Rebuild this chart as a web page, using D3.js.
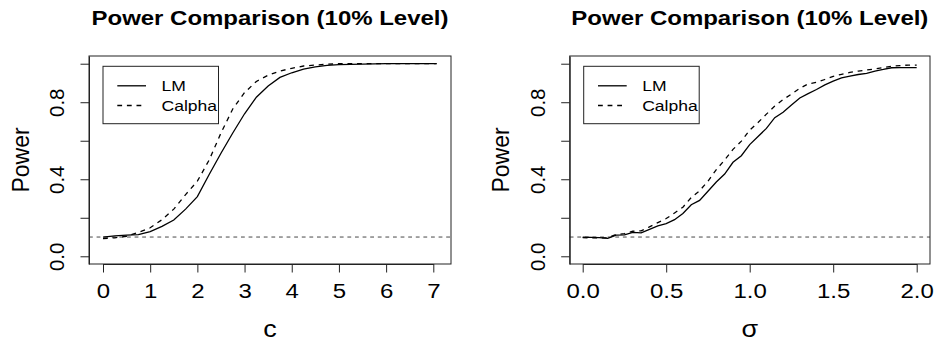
<!DOCTYPE html>
<html>
<head>
<meta charset="utf-8">
<script src="https://cdn.jsdelivr.net/npm/d3@7"></script>
<style>
  body { margin: 0; background: #fff; }
  text { font-family: "Liberation Sans", Arial, sans-serif; fill: #000; }
</style>
</head>
<body>
<div id="chart"></div>
<script>
// ---- data ----
var cValues = [0, 0.25, 0.5, 0.75, 1.0, 1.25, 1.5, 1.75, 2.0, 2.25, 2.5, 2.75, 3.0, 3.25,
               3.5, 3.75, 4.0, 4.25, 4.5, 4.75, 5.0, 5.5, 6.0, 6.5, 7.07];
var lmPowerC = [0.100, 0.106, 0.110, 0.112, 0.128, 0.155, 0.188, 0.245, 0.310, 0.425, 0.535,
                0.640, 0.740, 0.826, 0.884, 0.929, 0.953, 0.972, 0.984, 0.991, 0.995, 0.998,
                1.0, 1.0, 1.0];
var calphaPowerC = [0.092, 0.096, 0.104, 0.124, 0.148, 0.190, 0.245, 0.320, 0.390, 0.500, 0.640,
                    0.765, 0.850, 0.908, 0.940, 0.962, 0.976, 0.988, 0.993, 0.997, 1.0, 1.0,
                    1.0, 1.0, 1.0];

var sigmaValues = [0, 0.05, 0.1, 0.15, 0.2, 0.25, 0.3, 0.35, 0.4, 0.45, 0.5, 0.55, 0.6, 0.65,
                   0.7, 0.75, 0.8, 0.85, 0.9, 0.95, 1.0, 1.05, 1.1, 1.15, 1.2, 1.25, 1.3, 1.35,
                   1.4, 1.45, 1.5, 1.55, 1.6, 1.65, 1.7, 1.75, 1.8, 1.85, 1.9, 1.95, 2.0];
var lmPowerSigma = [0.099, 0.098, 0.097, 0.093, 0.110, 0.111, 0.124, 0.122, 0.140, 0.158, 0.170,
                    0.190, 0.222, 0.268, 0.290, 0.338, 0.386, 0.427, 0.488, 0.522, 0.580, 0.622,
                    0.664, 0.720, 0.748, 0.785, 0.822, 0.845, 0.866, 0.890, 0.910, 0.926, 0.936,
                    0.944, 0.950, 0.962, 0.970, 0.979, 0.980, 0.980, 0.980];
var calphaPowerSigma = [0.097, 0.096, 0.095, 0.096, 0.113, 0.118, 0.130, 0.132, 0.153, 0.175,
                        0.196, 0.225, 0.255, 0.305, 0.340, 0.390, 0.450, 0.500, 0.555, 0.598,
                        0.655, 0.695, 0.738, 0.780, 0.814, 0.842, 0.872, 0.895, 0.903, 0.918,
                        0.934, 0.945, 0.955, 0.962, 0.967, 0.973, 0.980, 0.987, 0.990, 0.993,
                        0.993];

var xTicksC = [0, 1, 2, 3, 4, 5, 6, 7];
var xTickLabelsC = ["0", "1", "2", "3", "4", "5", "6", "7"];
var xTicksSigma = [0, 0.5, 1, 1.5, 2];
var xTickLabelsSigma = ["0.0", "0.5", "1.0", "1.5", "2.0"];
var yTicks = [0, 0.2, 0.4, 0.6, 0.8, 1.0];
var yTickLabels = ["0.0", "", "0.4", "", "0.8", ""];
var seriesNames = ["LM", "Calpha"];
var nominalLevel = 0.1;

// ---- chart setup ----
var svgWidth = 936;
var svgHeight = 341;
var stretch = 1.17; // horizontal text in the reference is drawn a bit wide

var svg = d3.select("#chart")
            .append("svg")
            .attr("width", svgWidth)
            .attr("height", svgHeight);

function hText(g, x, y, str, size, weight) {
  return g.append("text")
    .attr("transform", `translate(${x}, ${y}) scale(${stretch}, 1)`)
    .attr("text-anchor", "middle")
    .style("font-size", size + "px")
    .style("font-weight", weight || "normal")
    .text(str);
}

function drawPanel(p) {
  var box = p.box;
  var xScale = d3.scaleLinear().domain(p.xDomain).range(p.xRange);
  var yScale = d3.scaleLinear().domain([-0.04, 1.04]).range([box.bottom, box.top]);
  var g = svg.append("g");
  var midX = (box.left + box.right) / 2;

  // title
  hText(g, midX, 25.3, "Power Comparison (10% Level)", 20.5, "bold");

  // nominal level line
  g.append("line")
    .attr("x1", box.left).attr("x2", box.right)
    .attr("y1", yScale(nominalLevel)).attr("y2", yScale(nominalLevel))
    .attr("stroke", "#333")
    .attr("stroke-width", 0.9)
    .attr("stroke-dasharray", "3.8,3.8");

  // power curves
  var line = d3.line().x(d => xScale(d[0])).y(d => yScale(d[1]));
  g.append("path")
    .datum(d3.zip(p.x, p.lm))
    .attr("d", line)
    .attr("fill", "none")
    .attr("stroke", "#000")
    .attr("stroke-width", 1.3);
  g.append("path")
    .datum(d3.zip(p.x, p.calpha))
    .attr("d", line)
    .attr("fill", "none")
    .attr("stroke", "#000")
    .attr("stroke-width", 1.3)
    .attr("stroke-dasharray", "4.8,4.8");

  // plot box
  g.append("rect")
    .attr("x", box.left).attr("y", box.top)
    .attr("width", box.right - box.left).attr("height", box.bottom - box.top)
    .attr("fill", "none")
    .attr("stroke", "#222")
    .attr("stroke-width", 1);

  // x axis
  var bottomAxis = d3.axisBottom(xScale)
    .tickValues(p.xTicks)
    .tickFormat((d, i) => p.xLabels[i])
    .tickSize(8.5)
    .tickSizeOuter(0);
  var xAxis = g.append("g")
    .attr("transform", `translate(0, ${box.bottom})`)
    .style("color", "#222")
    .call(bottomAxis);
  xAxis.selectAll(".tick text")
    .attr("y", 34)
    .attr("dy", null)
    .attr("transform", `scale(${stretch}, 1)`)
    .style("font-size", "20.5px")
    .style("font-family", '"Liberation Sans", Arial, sans-serif')
    .style("fill", "#000");

  // y axis
  var leftAxis = d3.axisLeft(yScale)
    .tickValues(yTicks)
    .tickFormat((d, i) => yTickLabels[i])
    .tickSize(8.5)
    .tickSizeOuter(0);
  var yAxis = g.append("g")
    .attr("transform", `translate(${box.left}, 0)`)
    .style("color", "#222")
    .call(leftAxis);
  yAxis.selectAll(".tick text")
    .attr("transform", "rotate(-90)")
    .attr("x", 0)
    .attr("y", -25)
    .attr("dy", null)
    .attr("text-anchor", "middle")
    .style("font-size", "20.5px")
    .style("font-family", '"Liberation Sans", Arial, sans-serif')
    .style("fill", "#000");

  // axis titles
  hText(g, midX, 337, p.xTitle, 23);
  g.append("text")
    .attr("transform", `translate(${box.left - 60.5}, ${(box.top + box.bottom) / 2}) rotate(-90)`)
    .attr("text-anchor", "middle")
    .style("font-size", "23px")
    .text("Power");

  // legend
  var lx = box.left + 14;
  var ly = 66.3;
  g.append("rect")
    .attr("x", lx).attr("y", ly)
    .attr("width", 115.5).attr("height", 57.4)
    .attr("fill", "#fff")
    .attr("stroke", "#222")
    .attr("stroke-width", 1);
  seriesNames.forEach(function(name, i) {
    var rowY = ly + 19.5 + i * 19.7;
    g.append("line")
      .attr("x1", lx + 14.3).attr("x2", lx + 43)
      .attr("y1", rowY).attr("y2", rowY)
      .attr("stroke", "#000")
      .attr("stroke-width", 1.3)
      .attr("stroke-dasharray", i === 1 ? "4.8,4.8" : null);
    g.append("text")
      .attr("transform", `translate(${lx + 58.5}, ${rowY + 5.4}) scale(${stretch}, 1)`)
      .style("font-size", "15px")
      .text(name);
  });
}

drawPanel({
  box: {left: 89, right: 451, top: 56, bottom: 264},
  xDomain: [0, 7], xRange: [103, 433.3],
  xTicks: xTicksC, xLabels: xTickLabelsC,
  x: cValues, lm: lmPowerC, calpha: calphaPowerC,
  xTitle: "c"
});

drawPanel({
  box: {left: 569.7, right: 930, top: 56, bottom: 264},
  xDomain: [0, 2], xRange: [582.7, 916.7],
  xTicks: xTicksSigma, xLabels: xTickLabelsSigma,
  x: sigmaValues, lm: lmPowerSigma, calpha: calphaPowerSigma,
  xTitle: "σ"
});
</script>
</body>
</html>
